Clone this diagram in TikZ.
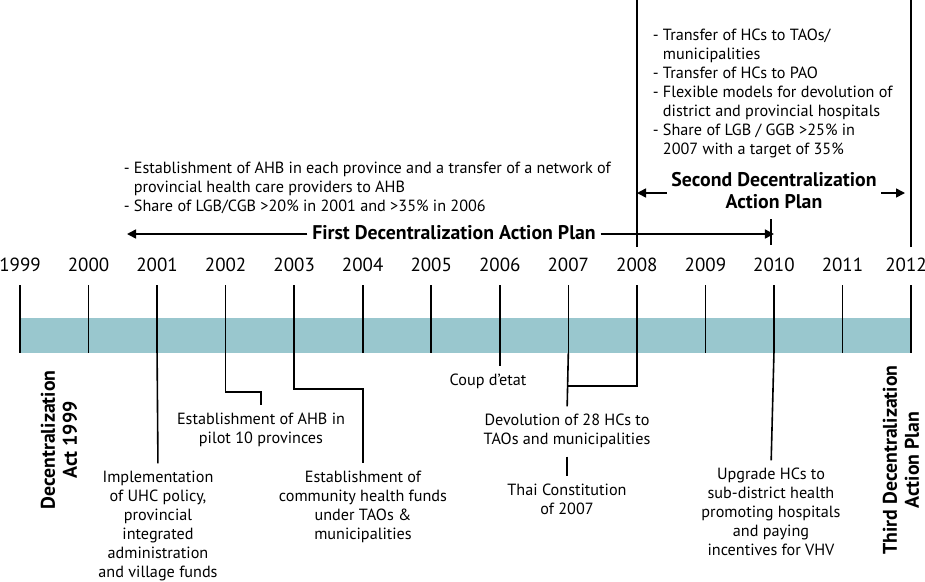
\documentclass[tikz,border=0pt]{standalone}
\usepackage{fontspec}
\setmainfont{PT Sans}
\usetikzlibrary{arrows.meta,positioning}
\definecolor{bandblue}{RGB}{153,199,206}
\tikzset{
    every picture/.style = {
        > = {Triangle[length=9pt,width=9pt]},
        line width = 1.6pt,
        x = 1pt,
        y = -1pt
    },
    year/.style = {
        inner sep = 0pt,
        font = \fontsize{19}{19}\selectfont
    },
    note/.style = {
        inner sep = 0pt,
        align = center,
        font = \fontsize{16.2}{19}\selectfont
    },
    bullets/.style = {
        inner sep = 0pt,
        align = left,
        font = \fontsize{16.2}{19}\selectfont
    },
    plan/.style = {
        inner ysep = 0pt,
        inner xsep = 4pt,
        align = center,
        font = \bfseries\fontsize{19.8}{22}\selectfont
    },
    link/.style = {shorten > = 7pt}
}

\begin{document}
\begin{tikzpicture}
    \useasboundingbox (0,0) rectangle (925,581);
    \fill[bandblue] (20,318) rectangle (911,353);
    \foreach \yr [count = \i from 0] in {1999,...,2012} {
        \pgfmathsetmacro\xx{20 + 68.54*\i}
        \pgfmathsetmacro\lx{min(\xx,906)}
        \node[year] (y\yr) at (\lx,265) {\yr};
        \coordinate (t\yr) at (\xx,285);
        \coordinate (b\yr) at (\xx,353);
        \draw (t\yr) -- (b\yr);
    }
    \path (t2008) ++(0,-38) coordinate (u2008);
    \path (t2012) ++(0,-38) coordinate (u2012);
    \draw (u2008) -- ++(0,-247);
    \draw (u2012) -- ++(0,-247);

    \node[bullets, anchor = base west] (firstlist) at (123,211.5)
        {- Establishment of AHB in each province and a transfer of a network of\\
         \phantom{- }provincial health care providers to AHB\\
         - Share of LGB/CGB >20\% in 2001 and >35\% in 2006};
    \node[plan] (fdap) at (454,233) {First Decentralization Action Plan};
    \coordinate (fdapL) at (127,234);
    \draw[->] (fdap.west |- fdapL) -- (fdapL);
    \draw[->] (fdap.east |- fdapL) -- (fdapL -| t2010);
    \draw[line width = 1.4pt] (771,219) -- (771,245);

    \node[bullets, anchor = base west] (secondlist) at (652,154.5)
        {- Transfer of HCs to TAOs/\\
         \phantom{- }municipalities\\
         - Transfer of HCs to PAO\\
         - Flexible models for devolution of\\
         \phantom{- }district and provincial hospitals\\
         - Share of LGB / GGB >25\% in\\
         \phantom{- }2007 with a target of 35\%};
    \node[plan] (sdap) at (774,191) {Second Decentralization\\Action Plan};
    \coordinate (sdapL) at (637,193);
    \coordinate (sdapR) at (905,193);
    \draw[->] (sdap.west |- sdapL) -- (sdapL);
    \draw[->] (sdap.east |- sdapR) -- (sdapR);

    \node[plan, rotate = 90] (dact) at (59,440) {Decentralization\\Act 1999};
    \node[plan, rotate = 90] (tdap) at (901,460) {Third Decentralization\\Action Plan};

    \node[note] (impl) at (158,526) {Implementation\\of UHC policy,\\provincial\\integrated\\administration\\and village funds};
    \node[note] (ahb) at (261,430) {Establishment of AHB in\\pilot 10 provinces};
    \node[note] (cfund) at (363,507) {Establishment of\\community health funds\\under TAOs \&\\municipalities};
    \node[note] (coup) at (488,381) {Coup d’etat};
    \node[note] (devo) at (567,431) {Devolution of 28 HCs to\\TAOs and municipalities};
    \node[note] (thai) at (567,499) {Thai Constitution\\of 2007};
    \node[note] (upg) at (771,512) {Upgrade HCs to\\sub-district health\\promoting hospitals\\and paying\\incentives for VHV};

    \draw[link] (b2001) -- (impl.north);
    \draw[link] (b2002) -- ++(0,39) -| (ahb.north);
    \draw[link] (b2003) -- ++(0,36) -| (cfund.north);
    \draw (b2006) -- ++(0,13);
    \draw[link] (b2007) -- (devo.north);
    \draw (b2008) -- ++(0,33) coordinate (k2008) -- (k2008 -| b2007);
    \draw[link, shorten < = 8pt] (devo.south) -- (thai.north);
    \draw[link] (b2010) -- (upg.north);
\end{tikzpicture}
\end{document}
